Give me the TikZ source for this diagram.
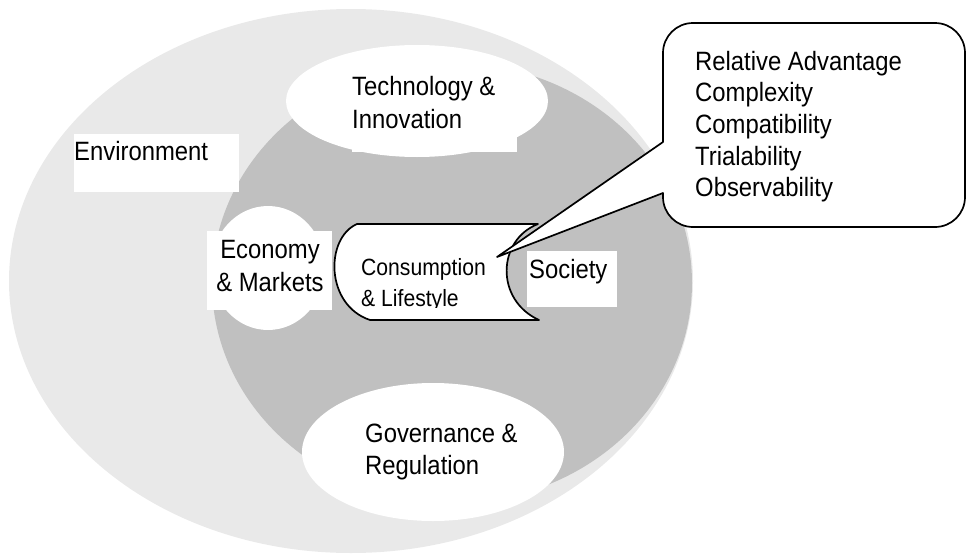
\documentclass[tikz,border=0pt]{standalone}
\usepackage{fontspec}
\setmainfont{Liberation Sans}[FakeStretch=0.9]

\definecolor{envgray}{RGB}{233,233,233}
\definecolor{socgray}{RGB}{192,192,192}

\tikzset{
  lbl/.style={inner sep=0pt, anchor=base west, font=\fontsize{26.5}{32.5}\selectfont},
  smalllbl/.style={inner sep=0pt, anchor=base west, font=\fontsize{23.5}{30.5}\selectfont},
  outline/.style={draw=black, line width=1.7pt, line join=round},
}

\newcommand{\lines}[1]{\begin{tabular}[t]{@{}l@{}}#1\end{tabular}}
\newcommand{\clines}[1]{\begin{tabular}[t]{@{}c@{}}#1\end{tabular}}

\begin{document}
\begin{tikzpicture}[x=1pt, y=-1pt]
  \useasboundingbox (0,0) rectangle (967,557);

  % environment and society discs
  \fill[envgray] (351,281) ellipse [x radius=342, y radius=272];
  \begin{scope}
    \clip (351,281) ellipse [x radius=342, y radius=272];
    \fill[socgray] (452,283) ellipse [x radius=240, y radius=220];
  \end{scope}

  % technology
  \fill[white] (417,101) ellipse [x radius=131, y radius=56];
  \fill[white] (352,70) rectangle (517,152);
  \node[lbl] (tech) at (352,95.5) {\lines{Technology \&\\Innovation}};

  % environment label box
  \fill[white] (74,134) rectangle (239,192);
  \node[lbl] (env) at (74,160) {Environment};

  % economy
  \fill[white] (268,268) ellipse [x radius=57, y radius=62];
  \fill[white] (207,231) rectangle (332,310);
  \node[lbl, anchor=base] (econ) at (270,258.5) {\clines{Economy\\\& Markets}};

  % society label box
  \fill[white] (527,251) rectangle (617,307);
  \node[lbl] (soc) at (529,278) {Society};

  % governance
  \fill[white] (433,452) ellipse [x radius=131, y radius=69];
  \node[lbl] (gov) at (365,442) {\lines{Governance \&\\Regulation}};

  % consumption scroll
  \coordinate (sTL) at (357,224);
  \coordinate (sTR) at (538,224);
  \coordinate (sBR) at (539,320);
  \coordinate (sBL) at (370,320);
  \filldraw[fill=white, outline]
    (sTL) -- (sTR) .. controls (497,240) and (495,300) .. (sBR)
    -- (sBL) .. controls (325,305) and (325,238) .. (sTL) -- cycle;
  \begin{scope}
    \clip (340,230) rectangle (500,307);
    \node[smalllbl] (cons) at (361,275.5) {\lines{Consumption\\\& Lifestyle}};
  \end{scope}

  % callout with pointer
  \coordinate (tip) at (497,257);
  \coordinate (cUp) at (663,142);
  \coordinate (cLo) at (663,193);
  \filldraw[fill=white, outline]
    (cLo) -- (663,197) .. controls (663,213.6) and (676.4,227) .. (693,227)
    -- (935,227) .. controls (951.6,227) and (965,213.6) .. (965,197)
    -- (965,53) .. controls (965,36.4) and (951.6,23) .. (935,23)
    -- (693,23) .. controls (676.4,23) and (663,36.4) .. (663,53)
    -- (cUp) -- (tip) -- cycle;
  \node[lbl, font=\fontsize{26.5}{31.7}\selectfont] (attr) at (695,70)
    {\lines{Relative Advantage\\Complexity\\Compatibility\\Trialability\\Observability}};
\end{tikzpicture}
\end{document}
